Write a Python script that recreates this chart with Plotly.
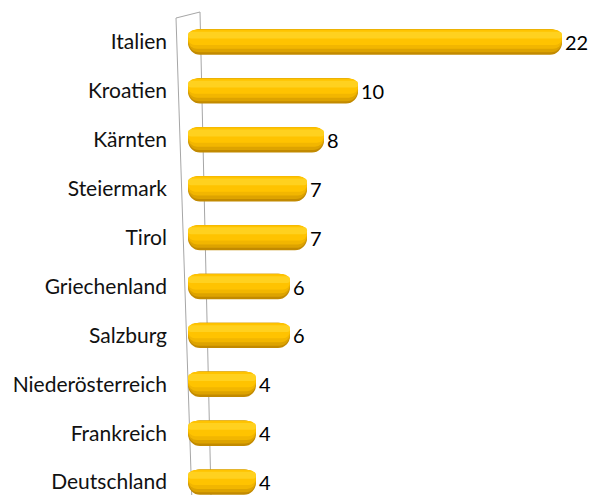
import plotly.graph_objects as go

categories = ["Italien", "Kroatien", "Kärnten", "Steiermark", "Tirol",
              "Griechenland", "Salzburg", "Niederösterreich", "Frankreich", "Deutschland"]
values = [22, 10, 8, 7, 7, 6, 6, 4, 4, 4]

# page has an 8px body margin; keep figure inside the viewport
OFF = 8
W, H = 597 - 2 * OFF, 503 - 2 * OFF
L, R, T, B = 188 - OFF, 26, 18 - OFF, 0
pw, ph = W - L - R, H - T - B
xmax = pw / 17.0
row = 48.9
ytop = -(42 - 18) / row
ybot = ytop + ph / row

def px(x):
    return (x - OFF - L) / pw

def py(y):
    return (H - B - (y - OFF)) / ph

FONT = "Lato, Carlito, sans-serif"

fig = go.Figure()
layers = [
    (-0.26, 0.26, "#C28A00"),
    (-0.26, 0.21, "#DDA300"),
    (-0.255, 0.14, "#F2B600"),
    (-0.25, 0.06, "#FFC300"),
    (-0.21, -0.07, "#FFD11F"),
]
n = len(values)
for i, (lo, hi, col) in enumerate(layers):
    fig.add_trace(go.Bar(
        y=categories, x=values, base=[0] * n, orientation="h",
        width=hi - lo, offset=lo,
        marker=dict(color=col, cornerradius="48%", line=dict(width=0)),
        text=[str(v) for v in values] if i == 0 else None,
        textposition="outside" if i == 0 else "none",
        textfont=dict(family=FONT, size=20, color="#000000"),
        cliponaxis=False, hoverinfo="skip", showlegend=False,
    ))

wall = [((176, 18), (200, 12)), ((176, 18), (192, 503)), ((200, 12), (211, 495)),
        ((211, 495), (203, 503))]
shapes = []
for (x0, y0), (x1, y1) in wall:
    shapes.append(dict(type="line", xref="paper", yref="paper",
                       x0=px(x0), y0=py(y0), x1=px(x1), y1=py(y1),
                       line=dict(color="#A6A6A6", width=1), layer="below"))

fig.update_layout(
    width=W, height=H,
    margin=dict(l=L, r=R, t=T, b=B, autoexpand=False),
    paper_bgcolor="white", plot_bgcolor="white",
    barmode="overlay",
    shapes=shapes,
    font=dict(family=FONT, size=21, color="#111111"),
    xaxis=dict(range=[0, xmax], visible=False, showgrid=False, zeroline=False,
               automargin=False),
    yaxis=dict(range=[ybot, ytop], showgrid=False, zeroline=False, showline=False,
               ticks="", ticklabelstandoff=20, tickfont=dict(size=21), automargin=False),
)

fig.write_html("out.html")
